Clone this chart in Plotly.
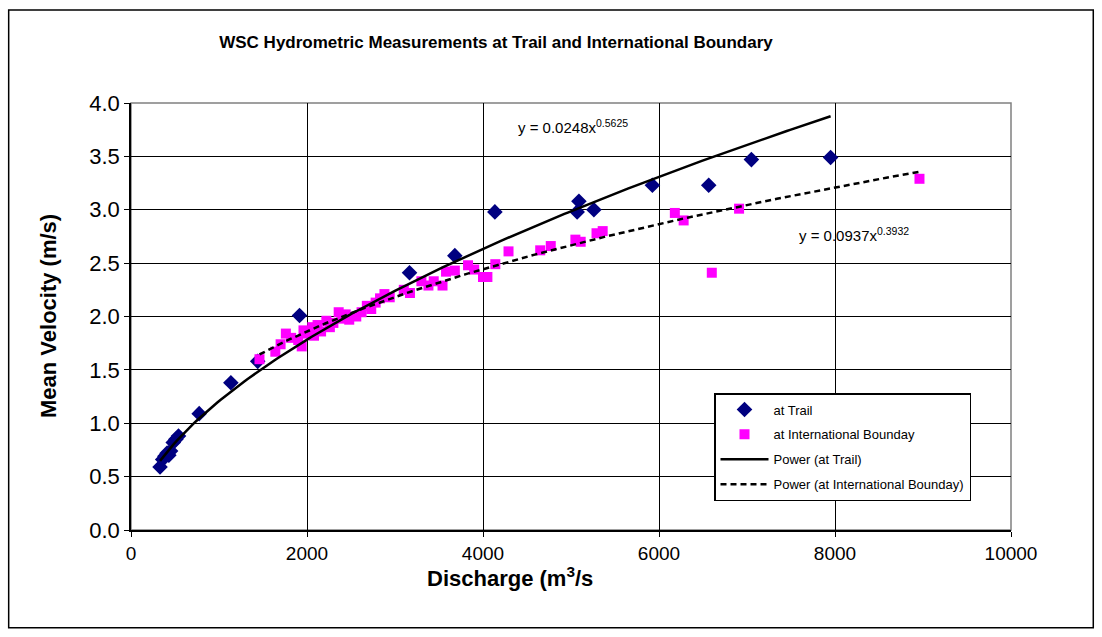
import numpy as np
import plotly.graph_objects as go

# ---- data ----
trail_q = [330, 360, 385, 410, 430, 450, 480, 510, 540, 775, 1135, 1440, 1915,
           3165, 3680, 4135, 5070, 5090, 5260, 5925, 6565, 7050, 7950]
trail_v = [0.59, 0.66, 0.69, 0.72, 0.70, 0.74, 0.82, 0.85, 0.88, 1.09, 1.38, 1.58, 2.01,
           2.41, 2.57, 2.98, 2.98, 3.08, 3.00, 3.23, 3.23, 3.47, 3.49]

ib_q = [1460, 1640, 1700, 1760, 1820, 1900, 1940, 1960, 2000, 2060, 2080, 2120, 2160,
        2220, 2260, 2300, 2360, 2400, 2440, 2480, 2560, 2620, 2680, 2730, 2780, 2830,
        2880, 2940, 3100, 3170, 3300, 3380, 3440, 3540, 3580, 3680, 3830, 3900, 4000,
        4050, 4140, 4290, 4650, 4770, 5050, 5110, 5290, 5360, 6180, 6280, 6600, 6910, 8960]
ib_v = [1.60, 1.67, 1.74, 1.84, 1.80, 1.78, 1.72, 1.87, 1.84, 1.90, 1.82, 1.92, 1.86,
        1.96, 1.90, 1.94, 2.04, 1.98, 2.02, 1.97, 2.00, 2.04, 2.10, 2.07, 2.13, 2.17,
        2.21, 2.18, 2.25, 2.22, 2.33, 2.29, 2.33, 2.29, 2.42, 2.43, 2.48, 2.44, 2.37,
        2.37, 2.49, 2.61, 2.62, 2.66, 2.72, 2.70, 2.78, 2.80, 2.97, 2.90, 2.41, 3.01, 3.29]

# power trendline coefficients (as displayed on chart)
trail_a, trail_b = 0.0248, 0.5625
ib_a, ib_b = 0.0937, 0.3932

x_ticks = [0, 2000, 4000, 6000, 8000, 10000]
y_ticks = [0.0, 0.5, 1.0, 1.5, 2.0, 2.5, 3.0, 3.5, 4.0]

title_text = "WSC Hydrometric Measurements at Trail and International Boundary"
x_title = "Discharge (m<sup>3</sup>/s"
y_title = "Mean Velocity (m/s)"
FONT = "Liberation Sans, Arial, sans-serif"

tq = np.linspace(min(trail_q), max(trail_q), 200)
iq = np.linspace(min(ib_q), max(ib_q), 200)

fig = go.Figure()
fig.add_trace(go.Scatter(x=trail_q, y=trail_v, mode="markers", name="at Trail",
                         legendgroup="a",
                         marker=dict(symbol="diamond", color="#000080", size=12,
                                     line=dict(width=0))))
fig.add_trace(go.Scatter(x=ib_q, y=ib_v, mode="markers", name="at International Bounday",
                         legendgroup="b",
                         marker=dict(symbol="square", color="#FF00FF", size=10,
                                     line=dict(width=0))))
fig.add_trace(go.Scatter(x=tq, y=trail_a * tq ** trail_b, mode="lines",
                         name="Power (at Trail)", legendgroup="c",
                         line=dict(color="black", width=2.5)))
fig.add_trace(go.Scatter(x=iq, y=ib_a * iq ** ib_b, mode="lines",
                         name="Power (at International Bounday)", legendgroup="d",
                         line=dict(color="black", width=2.5, dash="6px,4px")))

fig.add_annotation(x=4380, y=3.78, xref="x", yref="y", xanchor="left",
                   text="y = 0.0248x<sup>0.5625</sup>", showarrow=False,
                   font=dict(family=FONT, size=15, color="black"))
fig.add_annotation(x=7570, y=2.77, xref="x", yref="y", xanchor="left",
                   text="y = 0.0937x<sup>0.3932</sup>", showarrow=False,
                   font=dict(family=FONT, size=15, color="black"))

# axis titles
fig.add_annotation(x=(510 - 131) / 880, y=(530 - 577) / 427, xref="paper", yref="paper",
                   text="<b>" + x_title + "</b>", showarrow=False,
                   xanchor="center", yanchor="middle",
                   font=dict(family=FONT, size=22, color="black"))
fig.add_annotation(x=(48 - 131) / 880, y=(530 - 316) / 427, xref="paper", yref="paper",
                   text="<b>" + y_title + "</b>", showarrow=False, textangle=-90,
                   xanchor="center", yanchor="middle",
                   font=dict(family=FONT, size=22, color="black"))

# outer chart border
fig.add_shape(type="rect", xref="paper", yref="paper",
              x0=-0.139, x1=1.0935, y0=-0.229, y1=1.218,
              line=dict(color="black", width=1.5), layer="below")

fig.update_layout(
    width=1102, height=637,
    margin=dict(l=131, r=91, t=103, b=107),
    paper_bgcolor="white", plot_bgcolor="white",
    font=dict(family=FONT, color="black"),
    title=dict(text="<b>" + title_text + "</b>", x=496 / 1102, xanchor="center",
               y=1 - 42 / 637, yanchor="middle",
               font=dict(family=FONT, size=17, color="black")),
    xaxis=dict(range=[0, 10000], tickvals=x_ticks, ticktext=[str(v) for v in x_ticks],
               showgrid=True, gridcolor="black", gridwidth=1,
               showline=True, linecolor="black", linewidth=1.5, mirror=False,
               ticks="outside", ticklen=5, tickcolor="black",
               tickfont=dict(size=19), zeroline=False),
    yaxis=dict(range=[0, 4], tickvals=y_ticks, ticktext=["%.1f" % v for v in y_ticks],
               showgrid=True, gridcolor="black", gridwidth=1,
               showline=True, linecolor="black", linewidth=1.5, mirror=False,
               ticks="outside", ticklen=5, tickcolor="black",
               tickfont=dict(size=22), zeroline=False),
    legend=dict(x=(714 - 131) / 880, y=(530 - 393) / 427, xanchor="left", yanchor="top",
                bgcolor="white", bordercolor="black", borderwidth=1.5,
                font=dict(family=FONT, size=13, color="black"),
                tracegroupgap=5, itemwidth=48),
    showlegend=True,
)

# plot area border (gray top/right)
fig.add_shape(type="rect", xref="paper", yref="paper", x0=0, x1=1, y0=0, y1=1,
              line=dict(color="#808080", width=1.5), layer="below")

fig.write_html("out.html")
